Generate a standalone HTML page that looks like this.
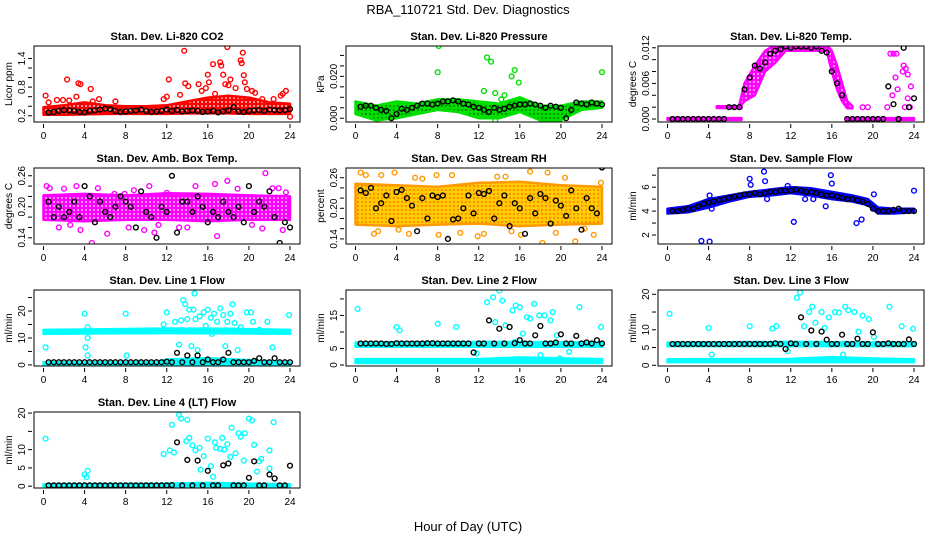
<!DOCTYPE html>
<html><head><meta charset="utf-8"><title>RBA_110721 Std. Dev. Diagnostics</title>
<style>
html,body{margin:0;padding:0;background:#fff;}
svg{display:block;font-family:"Liberation Sans",Arial,sans-serif;}
</style></head>
<body>
<svg id="chart" width="936" height="540" viewBox="0 0 936 540" xmlns="http://www.w3.org/2000/svg">
<rect width="936" height="540" fill="#fff"/>
<text x="468" y="14" text-anchor="middle" font-size="13">RBA_110721  Std. Dev. Diagnostics</text>
<text x="468" y="531" text-anchor="middle" font-size="13">Hour of Day (UTC)</text>
</svg>
<script>
// ---- shared data ----
const xTicks = [0,4,8,12,16,20,24];
const blackX = [0.5,1,1.5,2,2.5,3,3.5,4,4.5,5,5.5,6,6.5,7,7.5,8,8.5,9,9.5,10,10.5,11,11.5,12,12.5,13,13.5,14,14.5,15,15.5,16,16.5,17,17.5,18,18.5,19,19.5,20,20.5,21,21.5,22,22.5,23,23.5,24];

// P1 CO2
const co2BandX = [0,2,4,6,8,10,12,14,16,18,20,22,24];
const co2BandLo = [0.22,0.22,0.23,0.24,0.24,0.24,0.24,0.25,0.25,0.25,0.24,0.24,0.24];
const co2BandHi = [0.38,0.42,0.48,0.42,0.40,0.40,0.42,0.50,0.58,0.62,0.58,0.48,0.45];
const co2Out = [[0.2,0.62],[0.5,0.48],[1.3,0.53],[1.9,0.53],[2.3,0.96],[2.5,0.52],[3.2,0.6],[3.4,0.88],[3.6,0.86],[4.6,0.76],[4.8,0.5],[5.4,0.55],[7.0,0.5],[11.7,0.55],[12.0,0.6],[12.2,0.96],[13.3,0.64],[13.7,1.56],[13.8,0.88],[14.1,0.82],[15.1,0.86],[15.4,0.72],[15.8,0.78],[16.0,1.06],[16.1,0.9],[16.5,1.28],[16.7,0.66],[17.2,1.32],[17.3,1.25],[17.5,1.06],[17.7,0.86],[17.9,1.64],[18.0,0.84],[18.2,0.96],[18.7,0.78],[19.2,1.36],[19.3,1.3],[19.4,1.52],[19.5,1.05],[19.6,0.9],[19.8,0.76],[20.3,0.72],[20.6,0.68],[21.3,0.55],[22.4,0.55],[23.1,0.62],[23.3,0.66],[23.6,0.72],[24.0,0.18]];
const co2Black = [0.27,0.28,0.30,0.32,0.31,0.30,0.28,0.27,0.30,0.31,0.33,0.35,0.34,0.30,0.28,0.29,0.30,0.31,0.33,0.30,0.28,0.29,0.30,0.33,0.30,0.32,0.29,0.30,0.31,0.30,0.28,0.29,0.30,0.27,0.29,0.31,0.38,0.29,0.28,0.30,0.31,0.32,0.30,0.33,0.32,0.31,0.32,0.34];

// P2 Pressure
const prBandX = [0,2,4,6,8,10,12,14,16,18,20,22,24];
const prBandLo = [0.002,-0.001,0.0,0.002,0.004,0.003,0.0,0.0,0.003,-0.001,-0.001,0.004,0.005];
const prBandHi = [0.008,0.006,0.008,0.007,0.009,0.009,0.008,0.007,0.010,0.006,0.006,0.008,0.008];
const prOut = [[8.1,0.0345],[8.0,0.022],[12.8,0.029],[13.2,0.027],[15.2,0.020],[15.5,0.023],[15.9,0.017],[12.5,0.013],[13.6,0.012],[14.5,0.011],[24,0.022],[14.2,0.009],[13.6,-0.001]];
const prBlack = [0.0055,0.006,0.006,0.005,0.004,0.0035,0.000,0.002,0.0045,0.004,0.005,0.006,0.007,0.007,0.0065,0.007,0.008,0.008,0.0085,0.008,0.007,0.0065,0.0055,0.005,0.004,0.003,0.005,0.004,0.0045,0.0055,0.006,0.0065,0.0065,0.007,0.0065,0.006,0.005,0.006,0.0055,0.005,0.000,0.004,0.0075,0.007,0.0065,0.0075,0.007,0.0065];

// P3 Temp
const tpZeroX1 = [0,7.2]; const tpZeroLo1 = [-0.00015,-0.00015]; const tpZeroHi1 = [0.00015,0.00015];
const tpZeroX2 = [17.5,24]; const tpZeroLo2 = [-0.00015,-0.00015]; const tpZeroHi2 = [0.00015,0.00015];
const tpRowX = [4.8,7.2]; const tpRowLo = [0.00185,0.00185]; const tpRowHi = [0.00215,0.00215];
const tpBandX = [7.0,7.5,8.5,9.5,10.5,11.5,15.5,16.0,16.5,17.0,17.5,18.0];
const tpBandLo = [0.002,0.003,0.004,0.008,0.0095,0.0115,0.0115,0.008,0.005,0.003,0.0018,0.0018];
const tpBandHi = [0.0024,0.006,0.009,0.0115,0.0125,0.0125,0.0125,0.0115,0.009,0.006,0.003,0.0022];
const tpOut = [[19.0,0.002],[19.5,0.002],[21.4,0.002],[21.7,0.011],[22.0,0.011],[22.3,0.011],[22.2,0.007],[22.4,0.005],[23.0,0.009],[23.2,0.0085],[23.4,0.0075],[23.4,0.0035],[23.6,0.002],[23.1,0.002],[22.9,0.008],[21.9,0.004],[23.7,0.0055]];
const tpBlack = [0,0,0,0,0,0,0,0,0,0,0,0.002,0.002,0.002,0.005,0.007,0.009,0.0085,0.0095,0.011,0.0115,0.0118,0.0122,0.012,0.0122,0.0122,0.0122,0.012,0.0122,0.0115,0.0112,0.008,0.006,0.004,0,0,0,0,0,0,0,0,0.0055,0.0025,0,0.012,0.002,0.0035];

// P4 Amb box temp
const abBandX = [0,4,8,12,16,20,24];
const abBandLo = [0.175,0.172,0.175,0.175,0.172,0.175,0.175];
const abBandHi = [0.222,0.225,0.222,0.226,0.225,0.222,0.220];
const abOut = [[0.3,0.24],[0.6,0.236],[1.0,0.21],[1.5,0.16],[2.0,0.235],[2.6,0.165],[3.2,0.24],[3.6,0.155],[4.7,0.13],[5.3,0.236],[6.2,0.148],[6.9,0.225],[7.9,0.225],[8.8,0.232],[9.8,0.155],[10.3,0.24],[10.8,0.15],[12.0,0.227],[13.2,0.16],[14.8,0.24],[16.7,0.244],[16.9,0.143],[17.9,0.25],[18.9,0.235],[20.3,0.165],[21.3,0.158],[21.6,0.265],[22.3,0.236],[22.9,0.236],[23.3,0.155],[23.6,0.228],[8.3,0.16],[11.2,0.165],[14.0,0.16]];
const abBlack = [0.21,0.18,0.20,0.18,0.19,0.21,0.18,0.24,0.22,0.17,0.21,0.19,0.18,0.20,0.22,0.21,0.20,0.16,0.23,0.19,0.18,0.14,0.20,0.19,0.26,0.15,0.21,0.21,0.19,0.22,0.20,0.17,0.19,0.18,0.21,0.19,0.18,0.20,0.17,0.24,0.19,0.21,0.20,0.23,0.18,0.13,0.17,0.16];

// P5 RH
const rhBandX = [0,4,8,12,16,20,24];
const rhBandLo = [0.168,0.165,0.168,0.17,0.165,0.168,0.17];
const rhBandHi = [0.248,0.245,0.242,0.25,0.252,0.245,0.242];
const rhOut = [[0.5,0.27],[1.0,0.265],[1.8,0.15],[2.2,0.155],[2.5,0.265],[3.8,0.27],[4.2,0.158],[5.2,0.15],[5.8,0.26],[7.9,0.265],[8.1,0.148],[9.4,0.265],[10.2,0.152],[11.9,0.145],[12.5,0.15],[13.8,0.262],[15.2,0.155],[16.1,0.148],[17.0,0.272],[18.2,0.132],[18.7,0.27],[19.5,0.152],[20.4,0.26],[21.4,0.135],[22.3,0.16],[23.2,0.148],[23.9,0.25],[14.6,0.262],[6.5,0.258]];
const rhBlack = [0.235,0.23,0.24,0.20,0.21,0.225,0.175,0.232,0.236,0.22,0.205,0.155,0.22,0.18,0.225,0.222,0.225,0.14,0.178,0.18,0.20,0.225,0.19,0.23,0.228,0.234,0.18,0.21,0.225,0.165,0.21,0.20,0.15,0.22,0.19,0.228,0.22,0.17,0.215,0.205,0.185,0.235,0.20,0.158,0.22,0.2,0.19,0.28];

// P6 Sample flow
const sfBandX = [0,2,4,6,8,10,12,14,16,18,19.5,20.5,22,24];
const sfBandLo = [3.8,3.9,4.3,4.8,5.2,5.3,5.5,5.3,5.0,4.8,4.5,3.8,3.8,3.9];
const sfBandHi = [4.2,4.4,5.0,5.3,5.6,5.8,6.0,5.9,5.6,5.3,5.0,4.3,4.2,4.2];
const sfOut = [[3.3,1.5],[4.1,1.45],[4.1,5.3],[4.3,4.2],[8.0,6.7],[8.1,6.2],[9.4,7.3],[9.5,6.5],[9.7,5.0],[12.3,3.1],[13.4,5.0],[15.4,4.4],[15.9,7.0],[16.0,6.3],[18.4,3.0],[18.9,3.3],[20.1,5.4],[24,5.7],[11.7,6.1],[14.2,5.0]];
const sfBlack = [4.0,4.0,4.1,4.2,4.2,4.4,4.6,4.7,4.8,4.9,5.0,5.1,5.2,5.3,5.4,5.4,5.5,5.4,5.5,5.6,5.6,5.7,5.7,5.7,5.8,5.7,5.6,5.6,5.5,5.4,5.3,5.3,5.2,5.1,5.0,5.0,4.9,4.8,4.6,4.2,4.0,4.0,4.0,4.1,4.2,4.0,4.0,4.0];

// P7 Line 1
const l1TopX = [0,6,12,18,24]; const l1TopLo = [11.5,11.7,11.8,11.7,11.6]; const l1TopHi = [13.0,13.2,13.5,13.4,13.0];
const l1BotX = [0,11,12,16,20,24]; const l1BotLo = [0,0,0,0,0,0]; const l1BotHi = [1.0,1.0,2.0,2.5,1.8,1.0];
const l1Out = [[0.2,6.5],[4.0,19],[4.1,6.5],[4.3,10],[4.3,14],[4.3,3.5],[8.0,19],[8.1,3.5],[11.7,15],[12.0,19.5],[12.8,16],[13.2,7.5],[13.4,16.5],[13.6,24],[13.8,22.5],[14.0,17],[14.2,20.5],[14.4,7],[14.6,20.5],[14.8,17],[15.2,18],[15.6,19.5],[15.8,14.5],[16.0,20.5],[16.3,17.5],[16.6,19],[16.9,16],[17.2,21],[17.5,18.5],[17.7,7],[17.9,16],[18.2,19],[18.4,22.5],[18.6,15.5],[18.9,5.5],[19.2,14],[19.8,19.5],[20.2,19.5],[20.4,16],[21.0,13],[21.8,16],[22.3,6.5],[23.9,18.5],[14.7,26.5],[15.0,5.5],[16.4,11.5]];
const l1Black = [1,1,1,1,1,1,1,1,1,1,1,1,1,1,1,1,1,1,1,1,1,1,1,1.2,1,4.5,1,3.5,1,3.5,1,2,1,1,2,4.5,1,1,1,1,1.5,2.5,1,1,2.5,1,1,1];

// P8 Line 2
const l2TopX = [0,12,24]; const l2TopLo = [5.5,5.5,5.5]; const l2TopHi = [6.8,7.0,6.8];
const l2BotX = [0,12,16,20,24]; const l2BotLo = [0.6,0.6,0.6,0.6,0.6]; const l2BotHi = [1.8,1.8,2.3,2.0,1.8];
const l2Out = [[0.2,17],[4.0,11.5],[4.3,10.5],[8.0,12.5],[9.8,11.5],[11.8,3.5],[12.8,19],[13.4,20.5],[13.6,13],[14.0,22.5],[14.3,19.5],[14.6,12],[15.3,16.5],[15.6,18],[16.0,17.5],[16.3,9.5],[16.7,14.5],[17.0,14],[17.4,18.5],[17.9,15],[18.4,15],[19.0,13.5],[19.2,16],[19.6,9],[20.8,4],[21.8,17.5],[23.9,11.5],[15.5,7],[18.0,3],[19.9,2]];
const l2Black = [6.5,6.5,6.5,6.5,6.5,6.4,6.4,6.6,6.5,6.5,6.5,6.5,6.5,6.6,6.6,6.5,6.5,6.5,6.5,6.5,6.5,6.5,3.8,6.5,6.5,13.5,6.5,11,6.5,11.5,6.6,7.5,6.5,6.5,9,11.8,6.5,6.5,6.8,9.3,6.5,6.5,8.8,6.5,6.8,6.5,7.5,6.5];

// P9 Line 3
const l3TopX = [0,12,24]; const l3TopLo = [5.4,5.4,5.4]; const l3TopHi = [6.4,6.6,6.4];
const l3BotX = [0,12,16,20,24]; const l3BotLo = [0.9,0.9,0.9,0.9,0.9]; const l3BotHi = [1.7,1.8,2.3,1.9,1.7];
const l3Out = [[0.2,14.5],[4.0,10.5],[4.3,3],[8.0,11],[10.2,10.3],[10.6,11],[12.6,19],[12.9,20.5],[13.3,11],[13.8,15],[14.1,16.5],[14.4,12],[15.0,15],[15.3,10.5],[15.7,13.5],[16.3,15],[16.7,14.8],[17.3,16.5],[17.6,15.5],[18.2,15],[18.6,9.5],[19.0,14],[19.6,13],[20.1,8],[21.6,16.5],[22.8,11],[23.9,10.3],[15.0,6],[17.1,3],[11.7,4]];
const l3Black = [6,6,6,6,6,6,6,6,6,6,6,6,6,6,6,6,6,6,6,6,6.2,6,4.6,6.2,6,13.5,6,9.8,6,9.5,7.2,6,6,8.6,6,6,7.5,6,6,9.3,6,6,6.2,6,6,6,7.3,6];

// P10 Line 4
const l4BandX = [0,12,16,20,24]; const l4BandLo = [0,0,0,0,0]; const l4BandHi = [0.5,0.7,0.9,0.7,0.5];
const l4Out = [[0.2,13],[4.0,3.2],[4.2,2.5],[4.3,4.2],[11.7,8.8],[12.3,9.8],[12.5,16.8],[12.7,9.2],[13.2,19.5],[13.4,18.5],[13.9,12.3],[14.0,18.2],[14.2,13.2],[14.5,11.2],[14.8,9.8],[15.2,10.5],[15.3,4.5],[15.6,8.2],[16.0,13],[16.3,5.5],[16.5,2.6],[16.7,12],[16.8,10.5],[17.2,10.2],[17.4,13.2],[17.6,10],[17.9,11.5],[18.3,16],[18.7,9],[19.0,14.5],[19.2,13.5],[19.6,14.5],[20.0,18.5],[20.3,18],[20.5,11.3],[20.8,4],[21.0,6.8],[21.2,7.5],[22.0,9.8],[22.4,17.5],[22.0,4.8],[18.2,8],[19.5,7]];
const l4Black = [0.2,0.2,0.2,0.2,0.2,0.2,0.2,0.2,0.2,0.2,0.2,0.2,0.2,0.2,0.2,0.2,0.2,0.2,0.2,0.2,0.2,0.2,0.2,0.2,0.3,12,0.2,7.2,0.2,7,0.2,4.2,0.2,0.2,5.7,6.2,0.2,0.2,0.2,2.3,6.8,0.2,0.2,3.2,2.1,0.2,0.2,5.6];

// ---- panel layout ----
const NS = "http://www.w3.org/2000/svg";
const svg = document.getElementById('chart');
const colLeft = [34,346,658];
const rowTop = [46,168,290,412];
const BW = 266, BH = 76;

function mk(tag, attrs, parent){
  const e = document.createElementNS(NS, tag);
  for (const k in attrs) e.setAttribute(k, attrs[k]);
  (parent||svg).appendChild(e);
  return e;
}

const defs = mk('defs', {});
function pattern(id, bg, dot){
  const p = mk('pattern', {id:id, width:4, height:4, patternUnits:'userSpaceOnUse'}, defs);
  mk('rect', {width:4, height:4, fill:bg}, p);
  mk('circle', {cx:2, cy:2, r:0.9, fill:dot}, p);
  return 'url(#' + id + ')';
}

const panels = [
 {title:"Stan. Dev. Li-820 CO2", ylab:"Licor ppm", col:0,row:0, ymin:0.07, ymax:1.66, ticks:[0.2,0.4,0.6,0.8,1.0,1.2,1.4], labels:[0.2,0.8,1.4], fmt:1, color:"#ff0000", dot:"#ffffff", bands:[[co2BandX,co2BandLo,co2BandHi]], out:co2Out, black:co2Black},
 {title:"Stan. Dev. Li-820 Pressure", ylab:"kPa", col:1,row:0, ymin:-0.0018, ymax:0.0345, ticks:[0,0.005,0.01,0.015,0.02,0.025,0.03], labels:[0,0.02], fmt:3, color:"#00e000", dot:"#006600", bands:[[prBandX,prBandLo,prBandHi]], out:prOut, black:prBlack},
 {title:"Stan. Dev. Li-820 Temp.", ylab:"degrees C", col:2,row:0, ymin:-0.0005, ymax:0.0123, ticks:[0,0.002,0.004,0.006,0.008,0.01,0.012], labels:[0,0.006,0.012], fmt:3, color:"#ff00ff", dot:"#ffffff", bands:[[tpZeroX1,tpZeroLo1,tpZeroHi1],[tpZeroX2,tpZeroLo2,tpZeroHi2],[tpRowX,tpRowLo,tpRowHi],[tpBandX,tpBandLo,tpBandHi]], out:tpOut, black:tpBlack},
 {title:"Stan. Dev. Amb. Box Temp.", ylab:"degrees C", col:0,row:1, ymin:0.128, ymax:0.275, ticks:[0.14,0.16,0.18,0.2,0.22,0.24,0.26], labels:[0.14,0.2,0.26], fmt:2, color:"#ff00ff", dot:"#ffffff", bands:[[abBandX,abBandLo,abBandHi]], out:abOut, black:abBlack},
 {title:"Stan. Dev. Gas Stream RH", ylab:"percent", col:1,row:1, ymin:0.13, ymax:0.279, ticks:[0.14,0.16,0.18,0.2,0.22,0.24,0.26], labels:[0.14,0.2,0.26], fmt:2, color:"#ff9900", band:"#ffcc00", dot:"#ff6600", bands:[[rhBandX,rhBandLo,rhBandHi]], out:rhOut, black:rhBlack},
 {title:"Stan. Dev. Sample Flow", ylab:"ml/min", col:2,row:1, ymin:1.25, ymax:7.6, ticks:[2,3,4,5,6,7], labels:[2,4,6], fmt:0, color:"#0000ff", dot:"#000088", bands:[[sfBandX,sfBandLo,sfBandHi]], out:sfOut, black:sfBlack},
 {title:"Stan. Dev. Line 1 Flow", ylab:"ml/min", col:0,row:2, ymin:-0.4, ymax:27.8, ticks:[0,5,10,15,20,25], labels:[0,10,20], fmt:0, color:"#00ffff", dot:"#00dddd", bands:[[l1TopX,l1TopLo,l1TopHi],[l1BotX,l1BotLo,l1BotHi]], out:l1Out, black:l1Black},
 {title:"Stan. Dev. Line 2 Flow", ylab:"ml/min", col:1,row:2, ymin:-0.3, ymax:22.7, ticks:[0,5,10,15,20], labels:[0,5,15], fmt:0, color:"#00ffff", dot:"#00dddd", bands:[[l2TopX,l2TopLo,l2TopHi],[l2BotX,l2BotLo,l2BotHi]], out:l2Out, black:l2Black},
 {title:"Stan. Dev. Line 3 Flow", ylab:"ml/min", col:2,row:2, ymin:-0.2, ymax:21.2, ticks:[0,5,10,15,20], labels:[0,5,10,20], fmt:0, color:"#00ffff", dot:"#00dddd", bands:[[l3TopX,l3TopLo,l3TopHi],[l3BotX,l3BotLo,l3BotHi]], out:l3Out, black:l3Black},
 {title:"Stan. Dev. Line 4 (LT) Flow", ylab:"ml/min", col:0,row:3, ymin:-0.5, ymax:20.3, ticks:[0,5,10,15,20], labels:[0,5,10,20], fmt:0, color:"#00ffff", dot:"#00dddd", bands:[[l4BandX,l4BandLo,l4BandHi]], out:l4Out, black:l4Black}
];

const keys = ["co2","pressure","licor-temp","amb-box-temp","gas-stream-rh","sample-flow","line1-flow","line2-flow","line3-flow","line4-flow"];

panels.forEach((p, i) => {
  const L = colLeft[p.col], T = rowTop[p.row], B = T + BH;
  const g = mk('g', {});
  
  
  const xs = h => L + 9.5 + h * (246.5 / 24);
  const ys = v => B - (v - p.ymin) / (p.ymax - p.ymin) * BH;
  const cp = mk('clipPath', {id:'cp'+i}, g);
  mk('rect', {x:L, y:T, width:BW, height:BH}, cp);
  const plot = mk('g', {'clip-path':'url(#cp'+i+')'}, g);
  
  
  const fill = pattern('pat'+i, p.band||p.color, p.dot);
  // dense bands
  p.bands.forEach(b => {
    const [bx, lo, hi] = b;
    let pts = [];
    for (let k = 0; k < bx.length; k++) pts.push(xs(bx[k]).toFixed(1) + ',' + ys(hi[k]).toFixed(1));
    for (let k = bx.length - 1; k >= 0; k--) pts.push(xs(bx[k]).toFixed(1) + ',' + ys(lo[k]).toFixed(1));
    const poly = mk('polygon', {points:pts.join(' '), fill:fill, stroke:p.color, 'stroke-width':2.5, 'stroke-linejoin':'round'}, plot);
    
    
  });
  // outliers
  p.out.forEach(pt => {
    const c = mk('circle', {cx:xs(pt[0]).toFixed(1), cy:ys(pt[1]).toFixed(1), r:2.4, fill:'none', stroke:p.color, 'stroke-width':1.4}, plot);
    
    
  });
  // black mean points
  p.black.forEach((v, k) => {
    const c = mk('circle', {cx:xs(blackX[k]).toFixed(1), cy:ys(v).toFixed(1), r:2.4, fill:'none', stroke:'#000', 'stroke-width':1.4}, plot);
    
    
  });
  // box
  const box = mk('rect', {x:L, y:T, width:BW, height:BH, fill:'none', stroke:'#000', 'stroke-width':1}, g);
  
  
  // title
  const t = mk('text', {x:L + BW/2, y:T - 6, 'text-anchor':'middle', 'font-size':11, 'font-weight':'bold'}, g);
  t.textContent = p.title;
  
  
  // x axis
  xTicks.forEach(h => {
    mk('line', {x1:xs(h), x2:xs(h), y1:B + 2, y2:B + 6, stroke:'#000', 'stroke-width':1}, g);
    const tl = mk('text', {x:xs(h), y:B + 17, 'text-anchor':'middle', 'font-size':10}, g);
    tl.textContent = h;
    
    
  });
  // y axis
  p.ticks.forEach(v => {
    mk('line', {x1:L - 6, x2:L - 2, y1:ys(v), y2:ys(v), stroke:'#000', 'stroke-width':1}, g);
  });
  p.labels.forEach(v => {
    const tx = L - 9, ty = ys(v);
    const tl = mk('text', {x:tx, y:ty, 'text-anchor':'middle', 'font-size':10, transform:'rotate(-90 '+tx+' '+ty+')'}, g);
    tl.textContent = v.toFixed(p.fmt);
    
    
  });
  const yx = L - 22, yy = T + BH/2;
  const yl = mk('text', {x:yx, y:yy, 'text-anchor':'middle', 'font-size':10, transform:'rotate(-90 '+yx+' '+yy+')'}, g);
  yl.textContent = p.ylab;
  
  
});
</script>
</body></html>
